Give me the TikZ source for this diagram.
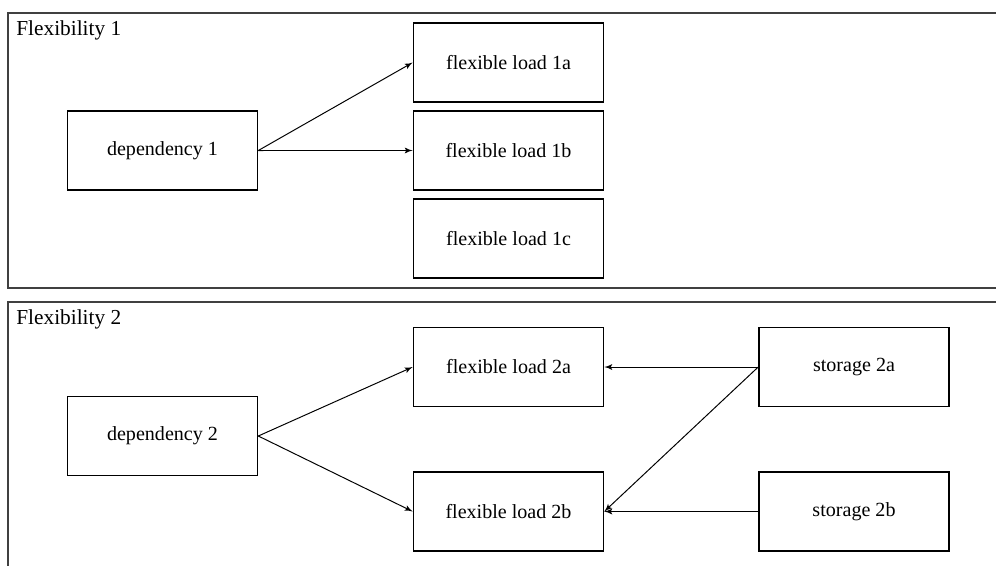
\documentclass[tikz,border=0pt]{standalone}
\usepackage{fontspec}
\setmainfont{Liberation Serif}
\usetikzlibrary{positioning,arrows}

\begin{document}
\begin{tikzpicture}[
  x=0.558pt, y=-0.558pt, >=latex',
  block/.style={draw, line width=0.9pt, minimum width=106pt, minimum height=44pt, font=\fontsize{11.2}{13}\selectfont},
  frame/.style={draw=black!75, line width=0.75pt},
  title/.style={anchor=base west, inner sep=0pt, font=\fontsize{11.9}{14}\selectfont},
  link/.style={->, line width=0.55pt},
]
  \useasboundingbox (0,0) rectangle (996,566);

  % Flexibility 1
  \draw[frame] (996,13) -- (8,13) -- (8,288) -- (996,288);
  \node[title] (flex1) at (16,35) {Flexibility 1};
  \node[block] (dep1) at (162.5,150.5) {dependency 1};
  \node[block] (load1a) at (508.5,62.5) {flexible load 1a};
  \node[block, below=4.2pt of load1a] (load1b) {flexible load 1b};
  \node[block, below=4.2pt of load1b] (load1c) {flexible load 1c};
  \draw[link] (dep1.east) -- (load1a.west);
  \draw[link] (dep1.east) -- (load1b.west);

  % Flexibility 2
  \draw[frame] (996,302) -- (8,302) -- (8,566);
  \node[title] (flex2) at (16,324) {Flexibility 2};
  \node[block] (dep2) at (162.5,436) {dependency 2};
  \node[block] (load2a) at (508.5,367) {flexible load 2a};
  \node[block] (load2b) at (508.5,511.5) {flexible load 2b};
  \node[block] (stor2a) at (854,367) {storage 2a};
  \node[block] (stor2b) at (854,511.5) {storage 2b};
  \draw[link] (dep2.east) -- (load2a.west);
  \draw[link] (dep2.east) -- (load2b.west);
  \draw[link] (stor2a.west) -- (load2a.east);
  \draw[link] (stor2a.west) -- (load2b.east);
  \draw[link] (stor2b.west) -- (load2b.east);
\end{tikzpicture}
\end{document}
